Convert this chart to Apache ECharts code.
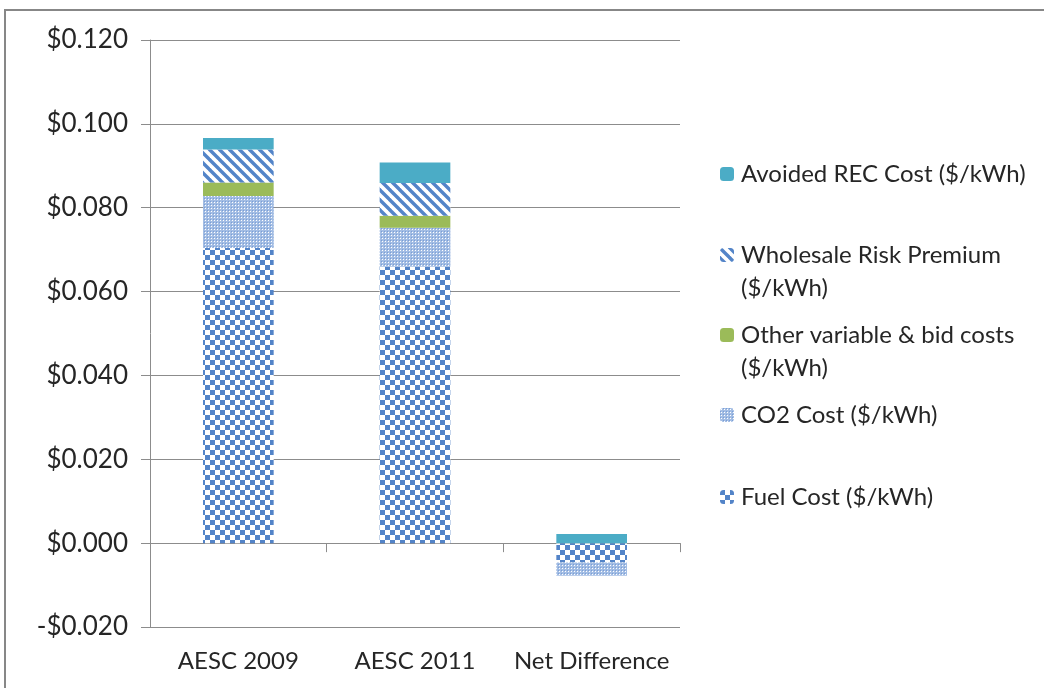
<!DOCTYPE html>
<html>
<head>
<meta charset="utf-8">
<title>Cost components</title>
<script src="https://cdn.jsdelivr.net/npm/echarts@6/dist/echarts.min.js"></script>
<style>
  html, body { margin: 0; padding: 0; background: #ffffff; }
  #chart { width: 1044px; height: 688px; }
</style>
</head>
<body>
<div id="chart"></div>
<script>
// Categories and stacked cost components ($/kWh)
const categories = ['AESC 2009', 'AESC 2011', 'Net Difference'];
const fuelCost = [0.0704, 0.0659, -0.0046];
const co2Cost = [0.0124, 0.0093, -0.0032];
const otherCosts = [0.0032, 0.0029, 0];
const riskPremium = [0.0079, 0.0078, 0];
const recCost = [0.0027, 0.0049, 0.0022];

const yMin = -0.02, yMax = 0.12, yStep = 0.02;

const names = {
  fuel: 'Fuel Cost ($/kWh)',
  co2: 'CO2 Cost ($/kWh)',
  other: 'Other variable & bid costs ($/kWh)',
  risk: 'Wholesale Risk Premium ($/kWh)',
  rec: 'Avoided REC Cost ($/kWh)'
};

// Fill patterns
function makeTile(w, h, draw) {
  const c = document.createElement('canvas');
  c.width = w; c.height = h;
  draw(c.getContext('2d'));
  return { image: c, repeat: 'repeat' };
}
const blue = '#5384c8';
const fuelPattern = makeTile(10, 10, g => {
  g.fillStyle = '#ffffff'; g.fillRect(0, 0, 10, 10);
  g.fillStyle = blue;
  g.fillRect(0, 0, 5, 5);
  g.fillRect(5, 5, 5, 5);
});
const co2Pattern = makeTile(3, 3, g => {
  g.fillStyle = '#a3bde4'; g.fillRect(0, 0, 3, 3);
  g.fillStyle = '#ffffff'; g.fillRect(1, 1, 1, 1);
  g.fillStyle = '#7a9fd6'; g.fillRect(0, 0, 1, 1);
});
const riskPattern = makeTile(10, 10, g => {
  g.fillStyle = '#ffffff'; g.fillRect(0, 0, 10, 10);
  g.strokeStyle = blue; g.lineWidth = 3.4;
  for (let o = -10; o <= 10; o += 10) {
    g.beginPath(); g.moveTo(o - 1, -1); g.lineTo(o + 11, 11); g.stroke();
  }
});

const font = 'Lato, "Open Sans", sans-serif';
const textColor = '#262626';

function bar(name, data, color) {
  return {
    name: name, type: 'bar', stack: 'cost', data: data,
    barCategoryGap: '60%',
    itemStyle: { color: color },
    emphasis: { disabled: true }
  };
}

// One legend block per entry so each sits in its own slot
function legendEntry(name, label, centerY, lines) {
  const lh = 33;
  const shown = lines > 1 ? '\n' + label : label;
  const total = lines > 1 ? lines + 1 : 1;
  return {
    data: [name], orient: 'vertical', left: 720, top: centerY - total * lh / 2,
    padding: 0, itemWidth: 14, itemHeight: 14, itemGap: 0,
    selectedMode: false,
    formatter: () => shown,
    textStyle: { fontFamily: font, fontSize: 24, color: textColor, lineHeight: lh, padding: [0, 0, 0, 2] }
  };
}

const chart = echarts.init(document.getElementById('chart'), null, { renderer: 'canvas' });
chart.setOption({
  animation: false,
  backgroundColor: '#ffffff',
  graphic: [{
    type: 'rect', silent: true, z: 100,
    shape: { x: 5, y: 10, width: 1200, height: 900 },
    style: { fill: 'none', stroke: '#878787', lineWidth: 2 }
  }],
  grid: { left: 150, right: 364, top: 40, bottom: 61, containLabel: false },
  legend: [
    legendEntry(names.rec, 'Avoided REC Cost ($/kWh)', 174, 1),
    legendEntry(names.risk, 'Wholesale Risk Premium\n($/kWh)', 255, 2),
    legendEntry(names.other, 'Other variable & bid costs\n($/kWh)', 335, 2),
    legendEntry(names.co2, 'CO2 Cost ($/kWh)', 415, 1),
    legendEntry(names.fuel, 'Fuel Cost ($/kWh)', 497, 1)
  ],
  xAxis: [{
    type: 'category', data: categories, position: 'bottom',
    axisLine: { show: false, onZero: false },
    axisTick: { show: false },
    axisLabel: { interval: 0, fontFamily: font, fontSize: 24, color: textColor, margin: 22 }
  }, {
    type: 'category', data: categories, position: 'top',
    axisLine: { onZero: true, lineStyle: { color: '#8c8c8c', width: 1 } },
    axisTick: { show: true, inside: true, length: 9, lineStyle: { color: '#8c8c8c' } },
    axisLabel: { show: false }
  }],
  yAxis: {
    type: 'value', min: yMin, max: yMax, interval: yStep,
    axisLine: { show: true, lineStyle: { color: '#8c8c8c' } },
    axisTick: { show: true, length: 9, lineStyle: { color: '#8c8c8c' } },
    splitLine: { lineStyle: { color: '#8c8c8c', width: 1 } },
    axisLabel: {
      fontFamily: font, fontSize: 26, color: textColor, margin: 22,
      formatter: v => (v < 0 ? '-$' : '$') + Math.abs(v).toFixed(3)
    }
  },
  series: [
    bar(names.fuel, fuelCost, fuelPattern),
    bar(names.co2, co2Cost, co2Pattern),
    bar(names.other, otherCosts, '#9bbb59'),
    bar(names.risk, riskPremium, riskPattern),
    bar(names.rec, recCost, '#4bacc6')
  ]
});
</script>
</body>
</html>
